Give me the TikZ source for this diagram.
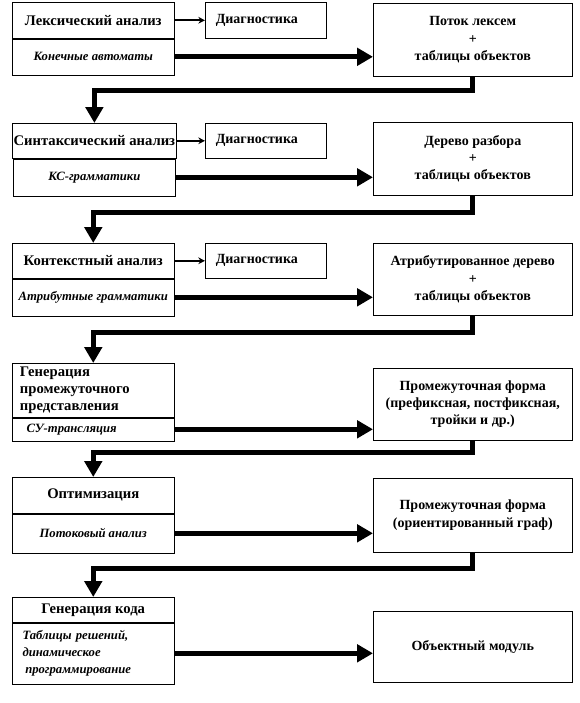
\documentclass[tikz,border=0pt]{standalone}
\usepackage{fontspec}
\setmainfont{Liberation Serif}
\usepackage{tikz}
\usetikzlibrary{arrows.meta,positioning}
\def\pxu{0.75pt}

\begin{document}
\begin{tikzpicture}[x=0.75pt, y=-0.75pt, font=\fontsize{10.5}{13}\selectfont\bfseries,
  etape/.style={draw, anchor=north west, minimum width=162*\pxu, inner xsep=1pt, inner ysep=1pt, align=center, font=\fontsize{11}{13}\selectfont\bfseries},
  methode/.style={etape, font=\fontsize{9.5}{12.4}\selectfont\bfseries\itshape},
  diag/.style={draw, anchor=north west, minimum width=121*\pxu, minimum height=36*\pxu, text width=75pt, inner xsep=7.5pt, align=left},
  resultat/.style={draw, anchor=north west, minimum width=199*\pxu, align=center},
  fleche/.style={line width=1.2pt, -{Stealth[length=5pt, width=5pt]}},
  grosse/.style={line width=3.8pt, -{Triangle[length=12pt, width=13pt]}}]
\useasboundingbox (0,0) rectangle (580,703);
% etapes
\node[etape, minimum height=36*\pxu] (t1) at (12,2) {Лексический анализ};
\node[methode, minimum height=36*\pxu, below=0pt of t1] (m1) {Конечные автоматы};
\node[etape, minimum height=35*\pxu] (t2) at (12,123) {Синтаксический анализ};
\node[methode, minimum height=37*\pxu, below=0pt of t2] (m2) {КС-грамматики};
\node[etape, minimum height=35*\pxu] (t3) at (12,243) {Контекстный анализ};
\node[methode, minimum height=37*\pxu, below=0pt of t3] (m3) {Атрибутные грамматики};
\node[etape, minimum height=54*\pxu, text width=110pt, align=left] (t4) at (12,363) {Генерация\\промежуточного\\представления};
\node[methode, minimum height=23*\pxu, text width=110pt, align=left, below=0pt of t4] (m4) {\hspace*{5pt}СУ-трансляция};
\node[etape, minimum height=36*\pxu] (t5) at (12,477) {Оптимизация};
\node[methode, minimum height=39*\pxu, below=0pt of t5] (m5) {Потоковый анализ};
\node[etape, minimum height=25*\pxu] (t6) at (12,597) {Генерация кода};
\node[methode, minimum height=61*\pxu, text width=106pt, align=left, below=0pt of t6] (m6) {Таблицы решений,\\динамическое\\\hspace*{2pt}программирование};
% diagnostics
\node[diag] (d1) at (205,2) {Диагностика};
\node[diag, minimum height=35*\pxu] (d2) at (205,123) {Диагностика};
\node[diag, minimum height=35*\pxu] (d3) at (205,243) {Диагностика};
% resultats
\node[resultat, minimum height=73*\pxu] (r1) at (373,3) {Поток лексем\\+\\таблицы объектов};
\node[resultat, minimum height=73*\pxu] (r2) at (373,122) {Дерево разбора\\+\\таблицы объектов};
\node[resultat, minimum height=72*\pxu] (r3) at (373,243) {Атрибутированное дерево\\+\\таблицы объектов};
\node[resultat, minimum height=72*\pxu] (r4) at (373,368) {Промежуточная форма\\(префиксная, постфиксная,\\тройки и др.)};
\node[resultat, minimum height=74*\pxu] (r5) at (373,478) {Промежуточная форма\\(ориентированный граф)};
\node[resultat, minimum height=71*\pxu] (r6) at (373,611) {Объектный модуль};
% liaisons
\foreach \i in {1,2,3} \draw[fleche] (t\i) -- (d\i);
\foreach \i in {1,...,6} \draw[grosse] (m\i.east) -- (m\i.east -| r\i.west);
\foreach \i/\j/\h in {1/2/14, 2/3/17, 3/4/17, 4/5/12, 5/6/16}
  \draw[grosse] (r\i.south) -- ++(0,\h) -| (t\j.north);
\end{tikzpicture}
\end{document}
